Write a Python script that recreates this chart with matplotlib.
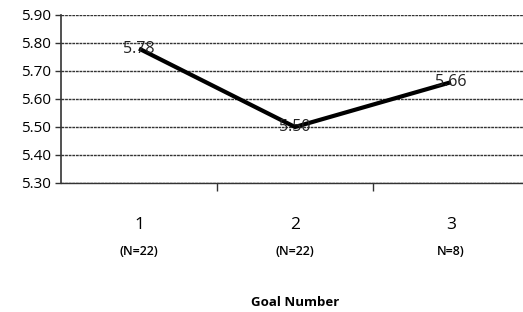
import matplotlib.pyplot as plt
import matplotlib.transforms as mtransforms

GOALS = [1, 2, 3]
GOAL_LABELS = ["1", "2", "3"]
N_LABELS = ["(N=22)", "(N=22)", "N=8)"]
MEANS = [5.78, 5.50, 5.66]
Y_TICKS = [5.30, 5.40, 5.50, 5.60, 5.70, 5.80, 5.90]

plt.rcParams["font.family"] = ["Open Sans", "DejaVu Sans"]

fig = plt.figure(figsize=(5.23, 3.12), dpi=100)
ax = fig.add_axes([61 / 523, 1 - 183 / 312, 468 / 523, 168 / 312])

ax.plot(GOALS, MEANS, color="black", lw=3, solid_capstyle="butt", zorder=3)
for x, y in zip(GOALS, MEANS):
    ax.text(x, y, f"{y:.2f}", ha="center", va="center", fontsize=11.5,
            color="#222222", zorder=4)

ax.set_xlim(0.5, 3.5)
ax.set_ylim(5.30, 5.90)
ax.set_yticks(Y_TICKS)
ax.set_yticklabels([f"{t:.2f}" for t in Y_TICKS], fontsize=11)
ax.yaxis.grid(True, color="#333333", lw=1, ls=(0, (2, 0.6)))
ax.set_axisbelow(True)

# category boundary ticks under the axis
ax.set_xticks([1.5, 2.5])
ax.set_xticklabels([])
ax.tick_params(axis="x", direction="out", length=6, width=1, color="#333333")
ax.tick_params(axis="y", direction="out", length=4, width=1, color="#333333", pad=3)

for side in ["top", "right"]:
    ax.spines[side].set_visible(False)
ax.spines["bottom"].set_color("#333333")
ax.spines["bottom"].set_linewidth(1)
ax.spines["left"].set_color("#333333")
ax.spines["left"].set_linewidth(1.2)

trans = mtransforms.blended_transform_factory(ax.transData, ax.transAxes)
for x, g, n in zip(GOALS, GOAL_LABELS, N_LABELS):
    ax.text(x, -0.25, g, transform=trans, ha="center", va="center", fontsize=12.5)
    ax.text(x, -0.41, n, transform=trans, ha="center", va="center", fontsize=9,
            fontweight="semibold")

ax.text(2, -0.71, "Goal Number", transform=trans, ha="center", va="center",
        fontsize=9.5, fontweight="bold")

fig.savefig("out.png", dpi=100)
